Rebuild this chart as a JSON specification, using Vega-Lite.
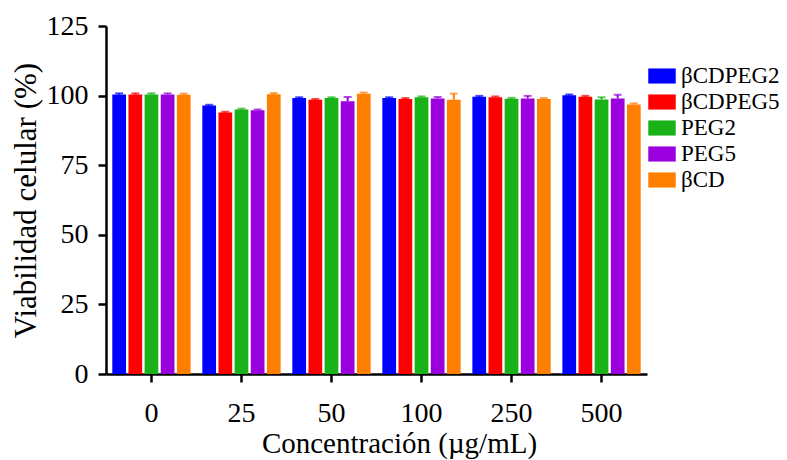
{
  "$schema": "https://vega.github.io/schema/vega-lite/v6.json",
  "width": 541,
  "height": 348,
  "autosize": {"type": "none"},
  "padding": {"left": 106, "top": 26, "right": 140, "bottom": 86},
  "background": "white",
  "config": {
    "view": {"stroke": null},
    "font": "Liberation Serif",
    "axis": {"labelFont": "Liberation Serif", "titleFont": "Liberation Serif", "labelColor": "black", "titleColor": "black", "domainColor": "black", "tickColor": "black", "titleFontWeight": "normal", "grid": false}
  },
  "data": {
    "values": [
      {"conc": "0", "sample": "βCDPEG2", "v": 100.4, "err": 0.4},
      {"conc": "0", "sample": "βCDPEG5", "v": 100.4, "err": 0.4},
      {"conc": "0", "sample": "PEG2", "v": 100.4, "err": 0.4},
      {"conc": "0", "sample": "PEG5", "v": 100.4, "err": 0.4},
      {"conc": "0", "sample": "βCD", "v": 100.3, "err": 0.4},
      {"conc": "25", "sample": "βCDPEG2", "v": 96.4, "err": 0.3},
      {"conc": "25", "sample": "βCDPEG5", "v": 93.9, "err": 0.3},
      {"conc": "25", "sample": "PEG2", "v": 95.0, "err": 0.3},
      {"conc": "25", "sample": "PEG5", "v": 94.7, "err": 0.3},
      {"conc": "25", "sample": "βCD", "v": 100.5, "err": 0.4},
      {"conc": "50", "sample": "βCDPEG2", "v": 99.1, "err": 0.3},
      {"conc": "50", "sample": "βCDPEG5", "v": 98.5, "err": 0.3},
      {"conc": "50", "sample": "PEG2", "v": 99.1, "err": 0.3},
      {"conc": "50", "sample": "PEG5", "v": 98.0, "err": 1.5},
      {"conc": "50", "sample": "βCD", "v": 100.7, "err": 0.4},
      {"conc": "100", "sample": "βCDPEG2", "v": 99.1, "err": 0.3},
      {"conc": "100", "sample": "βCDPEG5", "v": 98.8, "err": 0.3},
      {"conc": "100", "sample": "PEG2", "v": 99.4, "err": 0.3},
      {"conc": "100", "sample": "PEG5", "v": 99.0, "err": 0.5},
      {"conc": "100", "sample": "βCD", "v": 98.5, "err": 2.2},
      {"conc": "250", "sample": "βCDPEG2", "v": 99.6, "err": 0.3},
      {"conc": "250", "sample": "βCDPEG5", "v": 99.4, "err": 0.3},
      {"conc": "250", "sample": "PEG2", "v": 98.9, "err": 0.3},
      {"conc": "250", "sample": "PEG5", "v": 99.0, "err": 0.9},
      {"conc": "250", "sample": "βCD", "v": 98.8, "err": 0.3},
      {"conc": "500", "sample": "βCDPEG2", "v": 100.1, "err": 0.3},
      {"conc": "500", "sample": "βCDPEG5", "v": 99.6, "err": 0.3},
      {"conc": "500", "sample": "PEG2", "v": 98.6, "err": 0.8},
      {"conc": "500", "sample": "PEG5", "v": 99.0, "err": 1.3},
      {"conc": "500", "sample": "βCD", "v": 96.8, "err": 0.4}
    ]
  },
  "transform": [{"calculate": "datum.v + datum.err", "as": "hi"}],
  "encoding": {
    "x": {
      "field": "conc",
      "type": "nominal",
      "sort": ["0", "25", "50", "100", "250", "500"],
      "scale": {"paddingInner": 0.13, "paddingOuter": 0.07},
      "axis": {
        "title": "Concentración (µg/mL)",
        "titleFontSize": 29,
        "titlePadding": 2,
        "titleX": 293,
        "titleAlign": "center",
        "labelFontSize": 28,
        "labelAngle": 0,
        "labelPadding": 17,
        "domainWidth": 2.5,
        "tickWidth": 2.5,
        "tickSize": 8
      }
    },
    "xOffset": {
      "field": "sample",
      "type": "nominal",
      "sort": ["βCDPEG2", "βCDPEG5", "PEG2", "PEG5", "βCD"],
      "scale": {"paddingInner": 0.15}
    },
    "color": {
      "field": "sample",
      "type": "nominal",
      "scale": {
        "domain": ["βCDPEG2", "βCDPEG5", "PEG2", "PEG5", "βCD"],
        "range": ["#0000FF", "#FF0000", "#19B319", "#9900DD", "#FF7F00"]
      },
      "legend": {
        "title": null,
        "orient": "none",
        "legendX": 542,
        "legendY": 36,
        "symbolType": "M-1,-0.55H1V0.55H-1Z",
        "symbolSize": 756,
        "symbolStrokeWidth": 0,
        "symbolOpacity": 1,
        "labelFont": "Liberation Serif",
        "labelFontSize": 23,
        "labelColor": "black",
        "labelOffset": 5,
        "labelLimit": 200,
        "rowPadding": 0
      }
    }
  },
  "layer": [
    {
      "mark": {"type": "bar"},
      "encoding": {
        "y": {
          "field": "v",
          "type": "quantitative",
          "scale": {"domain": [0, 125], "nice": false},
          "axis": {
            "title": "Viabilidad celular (%)",
            "titleFontSize": 31,
            "titlePadding": 4,
            "labelFontSize": 28,
            "labelPadding": 10,
            "values": [0, 25, 50, 75, 100, 125],
            "domainWidth": 2.5,
            "tickWidth": 2.5,
            "tickSize": 8
          }
        }
      }
    },
    {
      "mark": {"type": "rule", "strokeWidth": 2},
      "encoding": {
        "y": {"field": "v", "type": "quantitative"},
        "y2": {"field": "hi"}
      }
    },
    {
      "mark": {"type": "tick", "thickness": 2, "size": 8},
      "encoding": {
        "y": {"field": "hi", "type": "quantitative"}
      }
    }
  ]
}
